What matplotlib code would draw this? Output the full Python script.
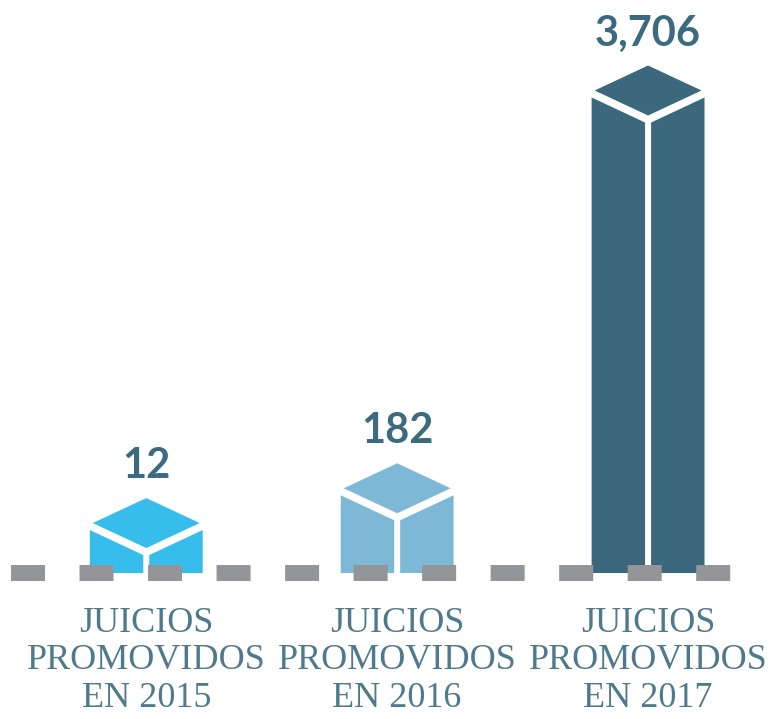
import matplotlib
matplotlib.use("Agg")
import matplotlib.pyplot as plt
import numpy as np
from matplotlib.patches import Polygon
from matplotlib.transforms import IdentityTransform

# Datos
anios = ["2015", "2016", "2017"]
juicios = [12, 182, 3706]
etiquetas = ["JUICIOS\nPROMOVIDOS\nEN " + a for a in anios]
colores = ["#36bdec", "#7eb8d7", "#3b687d"]


# escala de potencia (comprime la barra de 2017)
def potencia(v):
    v = np.asarray(v, dtype=float)
    return np.sign(v) * np.abs(v) ** 0.8


def inversa(u):
    u = np.asarray(u, dtype=float)
    return np.sign(u) * np.abs(u) ** 1.25


fig = plt.figure(figsize=(7.71, 7.19), dpi=100)
ax = fig.add_axes([0, 146 / 719, 1, 573 / 719])
ax.set_yscale("function", functions=(potencia, inversa))
ax.set_ylim(0, 5200)
ax.set_xlim(-0.583, 2.49)
for s in ax.spines.values():
    s.set_visible(False)
ax.patch.set_visible(False)

ancho = 0.45
cubo = 38.5   # px, profundidad del cubo sobre la columna
hueco = 3     # mitad de la linea blanca

for i, (v, c) in enumerate(zip(juicios, colores)):
    L, base = ax.transData.transform((i - ancho / 2, 0))
    R, tope = ax.transData.transform((i + ancho / 2, v))
    C = (L + R) / 2
    st = tope + cubo
    m = (R - L) / 2 - 3
    pend = 25 / m
    rombo = [(L + 3, st + 7), (C, st + 32), (R - 3, st + 7), (C, st - 18)]
    izq = [(L, base), (L, st), (C - hueco, st - pend * (C - hueco - L)), (C - hueco, base)]
    der = [(R, base), (R, st), (C + hueco, st - pend * (R - C - hueco)), (C + hueco, base)]
    for pts in (rombo, izq, der):
        ax.add_patch(Polygon(pts, closed=True, facecolor=c, edgecolor="none",
                             transform=IdentityTransform(), clip_on=False))
    ax.annotate(f"{v:,}", xy=(i, v), xytext=(0, (cubo + 32 + 20) * 0.72),
                textcoords="offset points", ha="center", va="baseline",
                fontsize=30, fontweight="bold", family="Lato", color="#3c6a7f")

# linea base punteada
ax.axhline(0, xmin=11 / 771, xmax=735 / 771, color="#939598", lw=11.5,
           linestyle=(0, (2.13, 2.16)), zorder=3, clip_on=False)

ax.set_xticks(range(len(anios)))
ax.set_xticklabels(etiquetas, fontsize=26, family="Liberation Serif",
                   color="#4f7a8c", linespacing=1.17)
ax.tick_params(axis="x", length=0, pad=24.5)
ax.tick_params(axis="y", which="both", left=False, labelleft=False)

fig.savefig("out.png", dpi=100)
